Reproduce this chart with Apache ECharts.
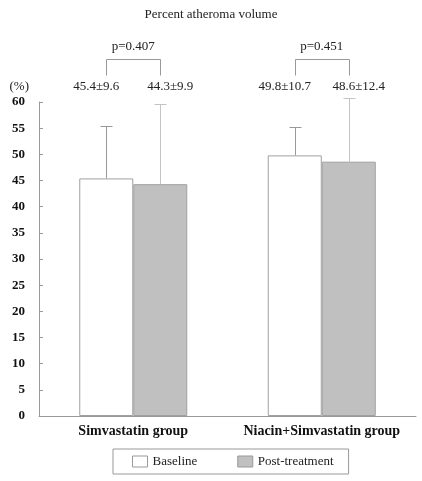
<!DOCTYPE html>
<html>
<head>
<meta charset="utf-8">
<script src="https://cdn.jsdelivr.net/npm/echarts@6/dist/echarts.min.js"></script>
<style>
html,body{margin:0;padding:0;background:#fff;}
#chart{width:422px;height:481px;}
</style>
</head>
<body>
<div id="chart"></div>
<script>
// ---- data ----
const categories = ['Simvastatin group', 'Niacin+Simvastatin group'];
const baselineMean = [45.4, 49.8];
const postMean = [44.3, 48.6];
const baselineSD = [9.6, 10.7];
const postSD = [9.9, 12.4];
// whisker tops as drawn in the picture
const baselineErrTop = [55.4, 55.3];
const postErrTop = [59.7, 60.8];
const pValues = ['0.407', '0.451'];
const yMin = 0, yMax = 60, yInterval = 5;

const FONT = '"Liberation Serif", "DejaVu Serif", serif';
const BAR_W = 54;
const chart = echarts.init(document.getElementById('chart'));

function errRender(side, color) {
  return function (params, api) {
    const c = api.value(0);
    const top = api.coord([c, api.value(2)]);
    const base = api.coord([c, api.value(1)]);
    const x = Math.round(top[0] + side * BAR_W / 2) + 0.5;
    const yt = Math.round(top[1]) + 0.5;
    return {
      type: 'group',
      children: [
        { type: 'line', shape: { x1: x, y1: base[1], x2: x, y2: yt }, style: { stroke: color, lineWidth: 1 } },
        { type: 'line', shape: { x1: x - 6, y1: yt, x2: x + 6, y2: yt }, style: { stroke: color, lineWidth: 1 } }
      ]
    };
  };
}

function annRender(params, api) {
  const i = params.dataIndex;
  const c = api.value(0);
  const ref = api.coord([c, yMax]);
  const cx = ref[0];
  const yTopPix = ref[1];
  const xl = Math.round(cx - BAR_W / 2) + 0.5;
  const xr = Math.round(cx + BAR_W / 2) + 0.5;
  const bb = Math.round(yTopPix - 27) + 0.5;
  const bt = Math.round(yTopPix - 43) + 0.5;
  const col = '#999';
  const ts = { fontFamily: FONT, fontSize: 13, fill: '#222', align: 'center', verticalAlign: 'middle' };
  return {
    type: 'group',
    children: [
      { type: 'polyline', shape: { points: [[xl, bb], [xl, bt], [xr, bt], [xr, bb]] }, style: { stroke: col, lineWidth: 1, fill: null } },
      { type: 'text', style: Object.assign({}, ts, { x: cx, y: yTopPix - 55, text: 'p=' + pValues[i] }) },
      { type: 'text', style: Object.assign({}, ts, { x: cx - 37, y: yTopPix - 15, text: baselineMean[i].toFixed(1) + '±' + baselineSD[i].toFixed(1) }) },
      { type: 'text', style: Object.assign({}, ts, { x: cx + 37, y: yTopPix - 15, text: postMean[i].toFixed(1) + '±' + postSD[i].toFixed(1) }) }
    ]
  };
}

const option = {
  animation: false,
  backgroundColor: '#fff',
  title: {
    text: 'Percent atheroma volume',
    left: 'center',
    top: 3,
    textStyle: { fontFamily: FONT, fontSize: 13, fontWeight: 'normal', color: '#222' }
  },
  legend: {
    left: 113,
    top: 449,
    orient: 'horizontal',
    borderColor: '#999',
    borderWidth: 1,
    padding: [6, 15, 6, 19],
    itemWidth: 15,
    itemHeight: 11,
    itemGap: 40,
    icon: 'rect',
    itemStyle: { borderWidth: 1, borderColor: '#999' },
    data: ['Baseline', 'Post-treatment'],
    textStyle: { fontFamily: FONT, fontSize: 13, color: '#222' }
  },
  grid: { left: 39, right: 6, top: 102, bottom: 65, containLabel: false },
  xAxis: {
    type: 'category',
    data: categories,
    axisLine: { lineStyle: { color: '#999' } },
    axisTick: { show: false },
    axisLabel: { interval: 0, fontFamily: FONT, fontSize: 14, fontWeight: 'bold', color: '#111', margin: 8 }
  },
  yAxis: {
    type: 'value',
    min: yMin,
    max: yMax,
    interval: yInterval,
    name: '(%)',
    nameLocation: 'end',
    nameGap: 9,
    nameTextStyle: { fontFamily: FONT, fontSize: 13, color: '#222', align: 'right', padding: [0, 10, 0, 0] },
    axisLine: { show: true, lineStyle: { color: '#999' } },
    axisTick: { show: true, inside: true, length: 4, lineStyle: { color: '#999' } },
    splitLine: { show: false },
    axisLabel: { fontFamily: FONT, fontSize: 13, fontWeight: 'bold', color: '#111', margin: 14 }
  },
  series: [
    {
      name: 'Baseline',
      type: 'bar',
      data: baselineMean,
      barWidth: BAR_W,
      barGap: '0%',
      itemStyle: { color: '#fff', borderColor: '#a0a0a0', borderWidth: 1 }
    },
    {
      name: 'Post-treatment',
      type: 'bar',
      data: postMean,
      barWidth: BAR_W,
      barGap: '0%',
      itemStyle: { color: '#c0c0c0', borderColor: '#a0a0a0', borderWidth: 1 }
    },
    {
      type: 'custom',
      renderItem: errRender(-1, '#999'),
      data: categories.map((c, i) => [i, baselineMean[i], baselineErrTop[i]]),
      z: 5, silent: true
    },
    {
      type: 'custom',
      renderItem: errRender(1, '#c4c4c4'),
      data: categories.map((c, i) => [i, postMean[i], postErrTop[i]]),
      z: 5, silent: true
    },
    {
      type: 'custom',
      renderItem: annRender,
      clip: false,
      data: categories.map((c, i) => [i]),
      z: 6, silent: true
    }
  ]
};
chart.setOption(option);
</script>
</body>
</html>
